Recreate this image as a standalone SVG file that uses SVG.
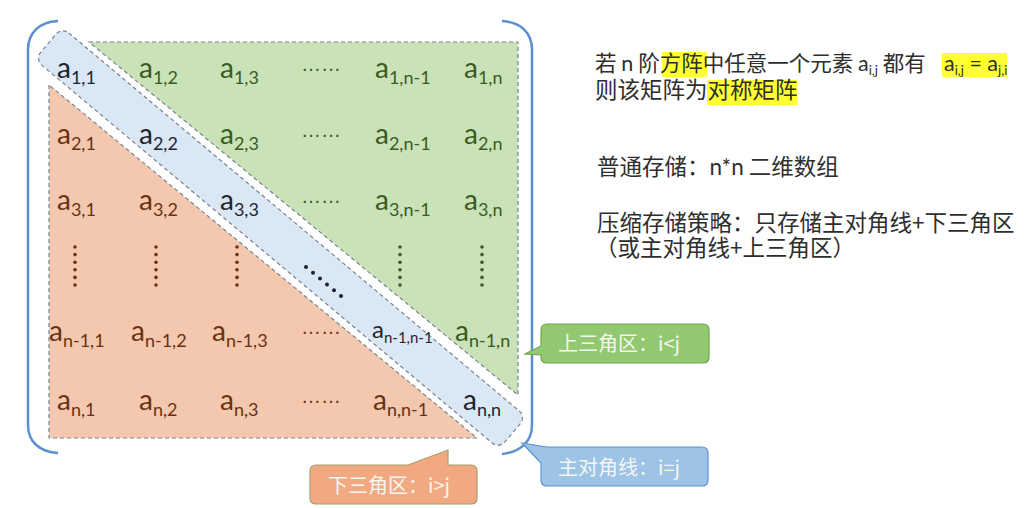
<svg xmlns="http://www.w3.org/2000/svg" width="1025" height="508" viewBox="0 0 1025 508">
<style>
.m{font-family:Lato,"Liberation Sans",sans-serif;font-size:28px}
.s{font-size:18px}
.sm{font-family:Lato,"Liberation Sans",sans-serif;font-size:24px}
.ss{font-size:15px}
.g{fill:#3a5a26}
.o{fill:#6a3212}
.d{fill:#1e2430}
.dots{font-family:"Liberation Sans",sans-serif;font-size:20px}
.t{font-family:Lato,"Noto Sans CJK SC",sans-serif;font-size:21.5px;fill:#2e2e2e}
.cj{font-family:"Noto Sans CJK SC",sans-serif;font-size:22.5px;fill:#2e2e2e}
.lat{font-family:Lato,sans-serif}
.ct{font-family:"Noto Sans CJK SC",sans-serif;font-size:20px;fill:#f4f7f0}
.hl{fill:#ffff33}
.dash{stroke:#7a8490;stroke-width:1.2;stroke-dasharray:4 3}
.br{fill:none;stroke:#5b8fd0;stroke-width:2.5}
</style>
<rect width="1025" height="508" fill="#ffffff"/>

<g id="upper-triangle">
<polygon points="89,42 518,42 518,395" fill="#c9e2b7" class="dash"/>
</g>
<g id="lower-triangle">
<polygon points="49,85 49,438 477,438" fill="#f4c8ae" class="dash"/>
</g>
<g id="diagonal-band">
<rect x="-303" y="-21" width="606" height="42" rx="9" transform="translate(280.5,238) rotate(40)" fill="#dae8f5" style="stroke-width:6;stroke:#ffffff"/>
<rect x="-303" y="-21" width="606" height="42" rx="9" transform="translate(280.5,238) rotate(40)" fill="#dae8f5" class="dash"/>
</g>

<g id="brackets">
<path class="br" d="M58,21 C40,22 28,32 28,50 L28,425 C28,442 40,452 58,453"/>
<path class="br" d="M502,21 C520,22 532,32 532,50 L532,425 C532,442 520,452 502,454"/>
</g>

<g id="cells">
<text class="m d" x="57" y="78">a<tspan class="s" dy="6">1,1</tspan></text>
<text class="m g" x="139" y="78">a<tspan class="s" dy="6">1,2</tspan></text>
<text class="m g" x="220" y="78">a<tspan class="s" dy="6">1,3</tspan></text>
<text class="dots g" x="301" y="71">……</text>
<text class="m g" x="375" y="78">a<tspan class="s" dy="6">1,n-1</tspan></text>
<text class="m g" x="464" y="78">a<tspan class="s" dy="6">1,n</tspan></text>

<text class="m o" x="57" y="144">a<tspan class="s" dy="6">2,1</tspan></text>
<text class="m d" x="139" y="144">a<tspan class="s" dy="6">2,2</tspan></text>
<text class="m g" x="220" y="144">a<tspan class="s" dy="6">2,3</tspan></text>
<text class="dots g" x="301" y="137">……</text>
<text class="m g" x="375" y="144">a<tspan class="s" dy="6">2,n-1</tspan></text>
<text class="m g" x="464" y="144">a<tspan class="s" dy="6">2,n</tspan></text>

<text class="m o" x="57" y="210">a<tspan class="s" dy="6">3,1</tspan></text>
<text class="m o" x="139" y="210">a<tspan class="s" dy="6">3,2</tspan></text>
<text class="m d" x="220" y="210">a<tspan class="s" dy="6">3,3</tspan></text>
<text class="dots g" x="301" y="203">……</text>
<text class="m g" x="375" y="210">a<tspan class="s" dy="6">3,n-1</tspan></text>
<text class="m g" x="464" y="210">a<tspan class="s" dy="6">3,n</tspan></text>

<text class="m o" x="49" y="341">a<tspan class="s" dy="6">n-1,1</tspan></text>
<text class="m o" x="131" y="341">a<tspan class="s" dy="6">n-1,2</tspan></text>
<text class="m o" x="212" y="341">a<tspan class="s" dy="6">n-1,3</tspan></text>
<text class="dots o" x="301" y="334">……</text>
<text class="sm d" x="372" y="338">a<tspan class="ss" dy="5">n-1,n-1</tspan></text>
<text class="m g" x="455" y="341">a<tspan class="s" dy="6">n-1,n</tspan></text>

<text class="m o" x="57" y="410">a<tspan class="s" dy="6">n,1</tspan></text>
<text class="m o" x="139" y="410">a<tspan class="s" dy="6">n,2</tspan></text>
<text class="m o" x="220" y="410">a<tspan class="s" dy="6">n,3</tspan></text>
<text class="dots o" x="301" y="403">……</text>
<text class="m o" x="373" y="410">a<tspan class="s" dy="6">n,n-1</tspan></text>
<text class="m d" x="463" y="410">a<tspan class="s" dy="6">n,n</tspan></text>
</g>

<g id="vertical-dots">
<g fill="#6a3212">
<circle cx="75" cy="247" r="1.8"/><circle cx="75" cy="254.6" r="1.8"/><circle cx="75" cy="262.2" r="1.8"/><circle cx="75" cy="269.8" r="1.8"/><circle cx="75" cy="277.4" r="1.8"/><circle cx="75" cy="285" r="1.8"/>
<circle cx="156" cy="247" r="1.8"/><circle cx="156" cy="254.6" r="1.8"/><circle cx="156" cy="262.2" r="1.8"/><circle cx="156" cy="269.8" r="1.8"/><circle cx="156" cy="277.4" r="1.8"/><circle cx="156" cy="285" r="1.8"/>
<circle cx="237" cy="247" r="1.8"/><circle cx="237" cy="254.6" r="1.8"/><circle cx="237" cy="262.2" r="1.8"/><circle cx="237" cy="269.8" r="1.8"/><circle cx="237" cy="277.4" r="1.8"/><circle cx="237" cy="285" r="1.8"/>
</g>
<g fill="#3a5a26">
<circle cx="400" cy="247" r="1.8"/><circle cx="400" cy="254.6" r="1.8"/><circle cx="400" cy="262.2" r="1.8"/><circle cx="400" cy="269.8" r="1.8"/><circle cx="400" cy="277.4" r="1.8"/><circle cx="400" cy="285" r="1.8"/>
<circle cx="482" cy="247" r="1.8"/><circle cx="482" cy="254.6" r="1.8"/><circle cx="482" cy="262.2" r="1.8"/><circle cx="482" cy="269.8" r="1.8"/><circle cx="482" cy="277.4" r="1.8"/><circle cx="482" cy="285" r="1.8"/>
</g>
<g fill="#1e2430">
<circle cx="306" cy="267" r="2"/><circle cx="313" cy="272.8" r="2"/><circle cx="320" cy="278.6" r="2"/><circle cx="327" cy="284.4" r="2"/><circle cx="334" cy="290.2" r="2"/><circle cx="341" cy="296" r="2"/>
</g>
</g>

<g id="description">
<rect class="hl" x="662" y="52" width="45" height="25"/>
<rect class="hl" x="942" y="53" width="65" height="24"/>
<rect class="hl" x="707" y="80" width="90" height="25"/>
<text class="cj" x="595" y="71" style="font-size:21.5px">若 <tspan class="lat">n</tspan> 阶方阵中任意一个元素 <tspan class="lat">a</tspan><tspan class="lat" font-size="13" dy="4">i,j</tspan><tspan dy="-4"> 都有</tspan></text>
<text class="t" x="944" y="71">a<tspan font-size="13" dy="4">i,j</tspan><tspan dy="-4"> = a</tspan><tspan font-size="13" dy="4">j,i</tspan></text>
<text class="cj" x="595" y="98">则该矩阵为对称矩阵</text>
<text class="cj" x="597" y="175">普通存储：<tspan class="lat">n*n</tspan> 二维数组</text>
<text class="cj" x="597" y="231">压缩存储策略：只存储主对角线+下三角区</text>
<text class="cj" x="595" y="256">（或主对角线+上三角区）</text>
</g>

<g id="callout-upper">
<path d="M547,324 H703 Q709,324 709,330 V357 Q709,363 703,363 H547 Q541,363 541,357 V355 L525,354 L541,346 V330 Q541,324 547,324 Z" fill="#92c86f" stroke="#6fa84c" stroke-width="1.2"/>
<text class="ct" x="558" y="351">上三角区：i&lt;j</text>
</g>
<g id="callout-diagonal">
<path d="M522,443 L547,447 H702 Q708,447 708,453 V480 Q708,486 702,486 H547 Q541,486 541,480 V463 Z" fill="#9dc3e6" stroke="#5b93d3" stroke-width="1.2"/>
<text class="ct" x="558" y="475">主对角线：i=j</text>
</g>
<g id="callout-lower">
<path d="M316,465 H408 L448,450 V465 H471 Q477,465 477,471 V498 Q477,504 471,504 H316 Q310,504 310,498 V471 Q310,465 316,465 Z" fill="#f2a981" stroke="#a8a06a" stroke-width="1.2"/>
<text class="ct" x="328" y="493">下三角区：i&gt;j</text>
</g>
</svg>
